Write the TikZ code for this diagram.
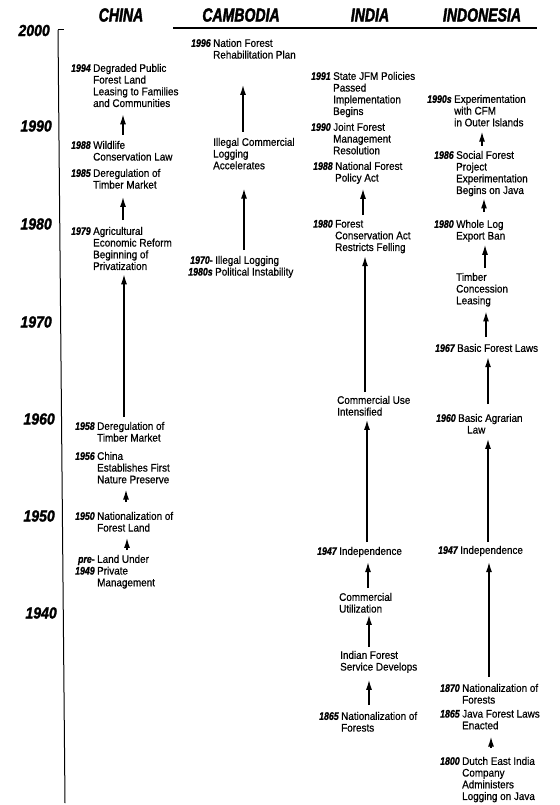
\documentclass[tikz,border=0pt]{standalone}
\usepackage{fontspec}
\setmainfont{Liberation Sans}[FakeStretch=0.9, FakeBold=0.6]
\newfontfamily\headfont{Liberation Sans}[FakeStretch=0.74, FakeBold=2]
\newfontfamily\axisfont{Liberation Sans}[FakeStretch=0.88, FakeBold=1.5]
\newfontfamily\yrfamily{Liberation Sans}[FakeStretch=0.8, FakeBold=1]
\usetikzlibrary{arrows.meta}
\newcommand{\yr}[1]{\llap{{\yrfamily\bfseries\itshape #1}\hspace{2.5pt}}}
\newcommand{\ev}[4]{\node[ev] (#1) at (#2,#3-4.3) {#4};}
\newcommand{\up}[5]{\coordinate (ax#1) at (#3,0);
  \draw[arr, shorten <=#4pt, shorten >=#5pt] (#1.north -| ax#1) -- (#2.south -| ax#1);}
\begin{document}
\begin{tikzpicture}[x=1pt,y=-1pt,
  ev/.style={anchor=north west, align=left, inner sep=0pt, font=\fontsize{11}{11.7}\selectfont},
  head/.style={font=\headfont\bfseries\itshape\fontsize{19}{19}\selectfont, inner sep=0pt},
  axis/.style={font=\axisfont\bfseries\itshape\fontsize{16}{16}\selectfont, inner sep=0pt, anchor=east},
  arr/.style={-{Latex[length=10pt,width=6pt]}, line width=1.4pt}]
\fill[white] (0,0) rectangle (559,805);
\useasboundingbox (0,0) rectangle (559,805);

% headings
\node[head] (hc) at (121,15) {CHINA};
\node[head] (hk) at (241,15) {CAMBODIA};
\node[head] (hi) at (370,15) {INDIA};
\node[head] (hn) at (482,15) {INDONESIA};

% axis
\draw[line width=1pt] (58,30) -- (65,803);
\draw[line width=1pt] (58,30) -- (64,30);
\draw[line width=1.1pt] (173,28) -- (537,28);
\node[axis] (y2000) at (50,30.5) {2000};
\node[axis] (y1990) at (52,126) {1990};
\node[axis] (y1980) at (52,224) {1980};
\node[axis] (y1970) at (52,322) {1970};
\node[axis] (y1960) at (55,419) {1960};
\node[axis] (y1950) at (55,516) {1950};
\node[axis] (y1940) at (57,613) {1940};

% China
\ev{c1}{93}{68}{\yr{1994}Degraded Public\\Forest Land\\Leasing to Families\\and Communities}
\ev{c2}{93}{145}{\yr{1988}Wildlife\\Conservation Law}
\ev{c3}{93}{173}{\yr{1985}Deregulation of\\Timber Market}
\ev{c4}{93}{231}{\yr{1979}Agricultural\\Economic Reform\\Beginning of\\Privatization}
\ev{c5}{97}{426}{\yr{1958}Deregulation of\\Timber Market}
\ev{c6}{97}{456}{\yr{1956}China\\Establishes First\\Nature Preserve}
\ev{c7}{97}{516}{\yr{1950}Nationalization of\\Forest Land}
\ev{c8}{97}{559}{\yr{pre-}Land Under\\\yr{1949}Private\\Management}
\up{c2}{c1}{123}{5.7}{7}
\up{c4}{c3}{123}{6.7}{8}
\up{c5}{c4}{124}{4.7}{4}
\up{c7}{c6}{126}{9.7}{6}
\up{c8}{c7}{127}{4.7}{6}

% Cambodia
\ev{k1}{213}{43}{\yr{1996}Nation Forest\\Rehabilitation Plan}
\ev{k2}{213}{142}{Illegal Commercial\\Logging\\Accelerates}
\ev{k3}{215}{260}{\yr{1970-}Illegal Logging\\\yr{1980s}Political Instability}
\up{k2}{k1}{243}{5.7}{26}
\up{k3}{k2}{244}{5.7}{19}

% India
\ev{i1}{333}{76}{\yr{1991}State JFM Policies\\Passed\\Implementation\\Begins}
\ev{i2}{333}{127}{\yr{1990}Joint Forest\\Management\\Resolution}
\ev{i3}{335}{166}{\yr{1988}National Forest\\Policy Act}
\ev{i4}{335}{224}{\yr{1980}Forest\\Conservation Act\\Restricts Felling}
\ev{i5}{337}{400}{Commercial Use\\Intensified}
\ev{i6}{339}{551}{\yr{1947}Independence}
\ev{i7}{339}{597}{Commercial\\Utilization}
\ev{i8}{340}{655}{Indian Forest\\Service Develops}
\ev{i9}{341}{716}{\yr{1865}Nationalization of\\Forests}
\up{i4}{i3}{363}{4.7}{4.7}
\up{i5}{i4}{365}{3.7}{2.7}
\up{i6}{i5}{367}{4.7}{4}
\up{i7}{i6}{368}{4.7}{4.7}
\up{i8}{i7}{369}{3.7}{2}
\up{i9}{i8}{369}{6.7}{6.7}

% Indonesia
\ev{n1}{454}{99}{\yr{1990s}Experimentation\\with CFM\\in Outer Islands}
\ev{n2}{456}{155}{\yr{1986}Social Forest\\Project\\Experimentation\\Begins on Java}
\ev{n3}{456}{224}{\yr{1980}Whole Log\\Export Ban}
\ev{n4}{456}{277}{Timber\\Concession\\Leasing}
\ev{n5}{457}{348}{\yr{1967}Basic Forest Laws}
\ev{n6}{458}{418}{\yr{1960}Basic Agrarian\\\hspace*{9pt}Law}
\ev{n7}{460}{550}{\yr{1947}Independence}
\ev{n8}{462}{688}{\yr{1870}Nationalization of\\Forests}
\ev{n9}{462}{714}{\yr{1865}Java Forest Laws\\Enacted}
\ev{n10}{462}{761}{\yr{1800}Dutch East India\\Company\\Administers\\Logging on Java}
\up{n2}{n1}{482}{4.7}{5}
\up{n3}{n2}{484}{7.7}{2}
\up{n4}{n3}{485}{4.7}{2.7}
\up{n5}{n4}{486}{6.7}{4.7}
\up{n6}{n5}{488}{9.7}{5}
\up{n7}{n6}{488}{3.7}{5}
\up{n8}{n7}{489}{6.7}{5.7}
\up{n10}{n9}{491}{8.7}{7}
\end{tikzpicture}
\end{document}
